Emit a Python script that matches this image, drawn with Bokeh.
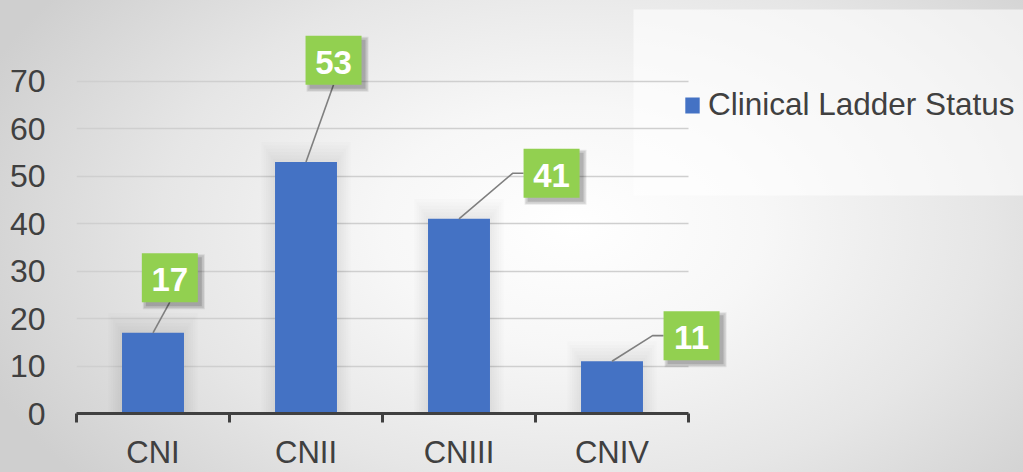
from bokeh.plotting import figure
from bokeh.models import Range1d, FixedTicker, BoxAnnotation
from bokeh.core.properties import value
from bokeh.embed import file_html
from bokeh.resources import INLINE

# data
categories = ["CNI", "CNII", "CNIII", "CNIV"]
counts = [17, 53, 41, 11]
series_name = "Clinical Ladder Status"
y_ticks = [0, 10, 20, 30, 40, 50, 60, 70]

# callout placement relative to each bar top (x in category widths, y in value units)
callout_dx = [0.11, 0.18, 0.605, 0.52]
callout_dy = [11.6, 21.4, 9.6, 5.4]
callout_elbow = [False, False, True, True]

FONT = "Liberation Sans"
BAR = "#4472C4"
GREEN = "#92D050"
TEXT = "#404040"
AXIS = "#404040"

LEFT = 76
WIDTH, HEIGHT = 1023, 472
PX_PER_CAT = 153.0
Y_MAX = 87.0
frame_w = WIDTH - LEFT
x_end = frame_w / PX_PER_CAT
px_per_unit = 413.0 / Y_MAX

p = figure(
    width=WIDTH, height=HEIGHT,
    x_range=Range1d(0, x_end), y_range=Range1d(0, Y_MAX),
    output_backend="svg", toolbar_location=None,
    min_border_left=LEFT, min_border_right=0, min_border_top=0, min_border_bottom=0,
    styles={"background": "radial-gradient(ellipse 62% 85% at 56% 48%, #ffffff 0%, #f7f7f7 30%, #e6e6e6 65%, #cfcfcf 100%)"},
)
p.border_fill_alpha = 0
p.background_fill_alpha = 0
p.outline_line_color = None

# translucent panel behind the legend
p.add_layout(BoxAnnotation(left=(633 - LEFT) / PX_PER_CAT, right=x_end,
                           top=Y_MAX - 9 / px_per_unit, bottom=Y_MAX - 195 / px_per_unit,
                           fill_color="#ffffff", fill_alpha=0.6, line_color=None,
                           level="image"))

# grid
p.xgrid.visible = False
p.ygrid.ticker = FixedTicker(ticks=y_ticks)
p.ygrid.cross_bounds = (0, len(categories))
p.ygrid.grid_line_color = "#cfcfcf"
p.ygrid.grid_line_width = 1.5

# y axis
p.yaxis.ticker = FixedTicker(ticks=y_ticks)
p.yaxis.axis_line_color = None
p.yaxis.major_tick_line_color = None
p.yaxis.minor_tick_line_color = None
p.yaxis.major_label_standoff = 25
p.yaxis.major_label_text_font = FONT
p.yaxis.major_label_text_font_size = "32px"
p.yaxis.major_label_text_color = TEXT

# x axis: category names at centres, tick marks on the boundaries
xs = [i + 0.5 for i in range(len(categories))]
p.xaxis.ticker = FixedTicker(ticks=xs, minor_ticks=list(range(len(categories) + 1)))
p.xaxis.major_label_overrides = {x: c for x, c in zip(xs, categories)}
p.xaxis.bounds = (0, len(categories))
p.xaxis.major_tick_line_color = None
p.xaxis.major_tick_out = 0
p.xaxis.major_tick_in = 0
p.xaxis.minor_tick_out = 9
p.xaxis.minor_tick_in = 0
p.xaxis.minor_tick_line_color = AXIS
p.xaxis.minor_tick_line_width = 3
p.xaxis.axis_line_color = AXIS
p.xaxis.axis_line_width = 3
p.xaxis.major_label_standoff = 12
p.xaxis.major_label_text_font = FONT
p.xaxis.major_label_text_font_size = "31px"
p.xaxis.major_label_text_color = TEXT

# soft glow around the bars
for k in range(1, 7):
    p.vbar(x=xs, top=[c + k * 0.7 for c in counts], width=0.405 + k * 0.03,
           fill_color="#000000", fill_alpha=0.012, line_color=None)

p.vbar(x=xs, top=counts, width=0.405, fill_color=BAR, line_color=None,
       legend_label=series_name)

# callouts
bw, bh = 56, 49
bx = [x + dx for x, dx in zip(xs, callout_dx)]
by = [c + dy for c, dy in zip(counts, callout_dy)]
half_w = (bw / 2) / PX_PER_CAT
half_h = (bh / 2) / px_per_unit
lx, ly = [], []
for x, c, cx, cy, elbow in zip(xs, counts, bx, by, callout_elbow):
    if elbow:
        lx.append([x, cx - half_w - 11 / PX_PER_CAT, cx - half_w])
        ly.append([c, cy, cy])
    else:
        lx.append([x, cx])
        ly.append([c, cy - half_h])
p.multi_line(xs=lx, ys=ly, line_color="#7f7f7f", line_width=1.6)

sx = [x + 4 / PX_PER_CAT for x in bx]
sy = [y - 4 / px_per_unit for y in by]
for k, a in ((3, 0.08), (2, 0.10), (0, 0.14)):
    p.rect(x=sx, y=sy, width=bw + k * 2, height=bh + k * 2,
           width_units="screen", height_units="screen",
           fill_color="#000000", fill_alpha=a, line_color=None)
p.rect(x=bx, y=by, width=bw, height=bh, width_units="screen", height_units="screen",
       fill_color=GREEN, line_color=None)
p.text(x=bx, y=by, text=[str(c) for c in counts], text_align="center",
       text_baseline="middle", y_offset=2, text_color="#ffffff",
       text_font=value(FONT), text_font_style="bold", text_font_size="33px")

# legend
lg = p.legend[0]
lg.location = (683 - LEFT, 290)
lg.background_fill_alpha = 0
lg.border_line_color = None
lg.padding = 0
lg.margin = 0
lg.spacing = 0
lg.glyph_width = 18
lg.glyph_height = 20
lg.label_standoff = 7
lg.label_text_font = FONT
lg.label_text_font_size = "31.5px"
lg.label_text_color = TEXT

open("out.html", "w").write(file_html(p, INLINE))
